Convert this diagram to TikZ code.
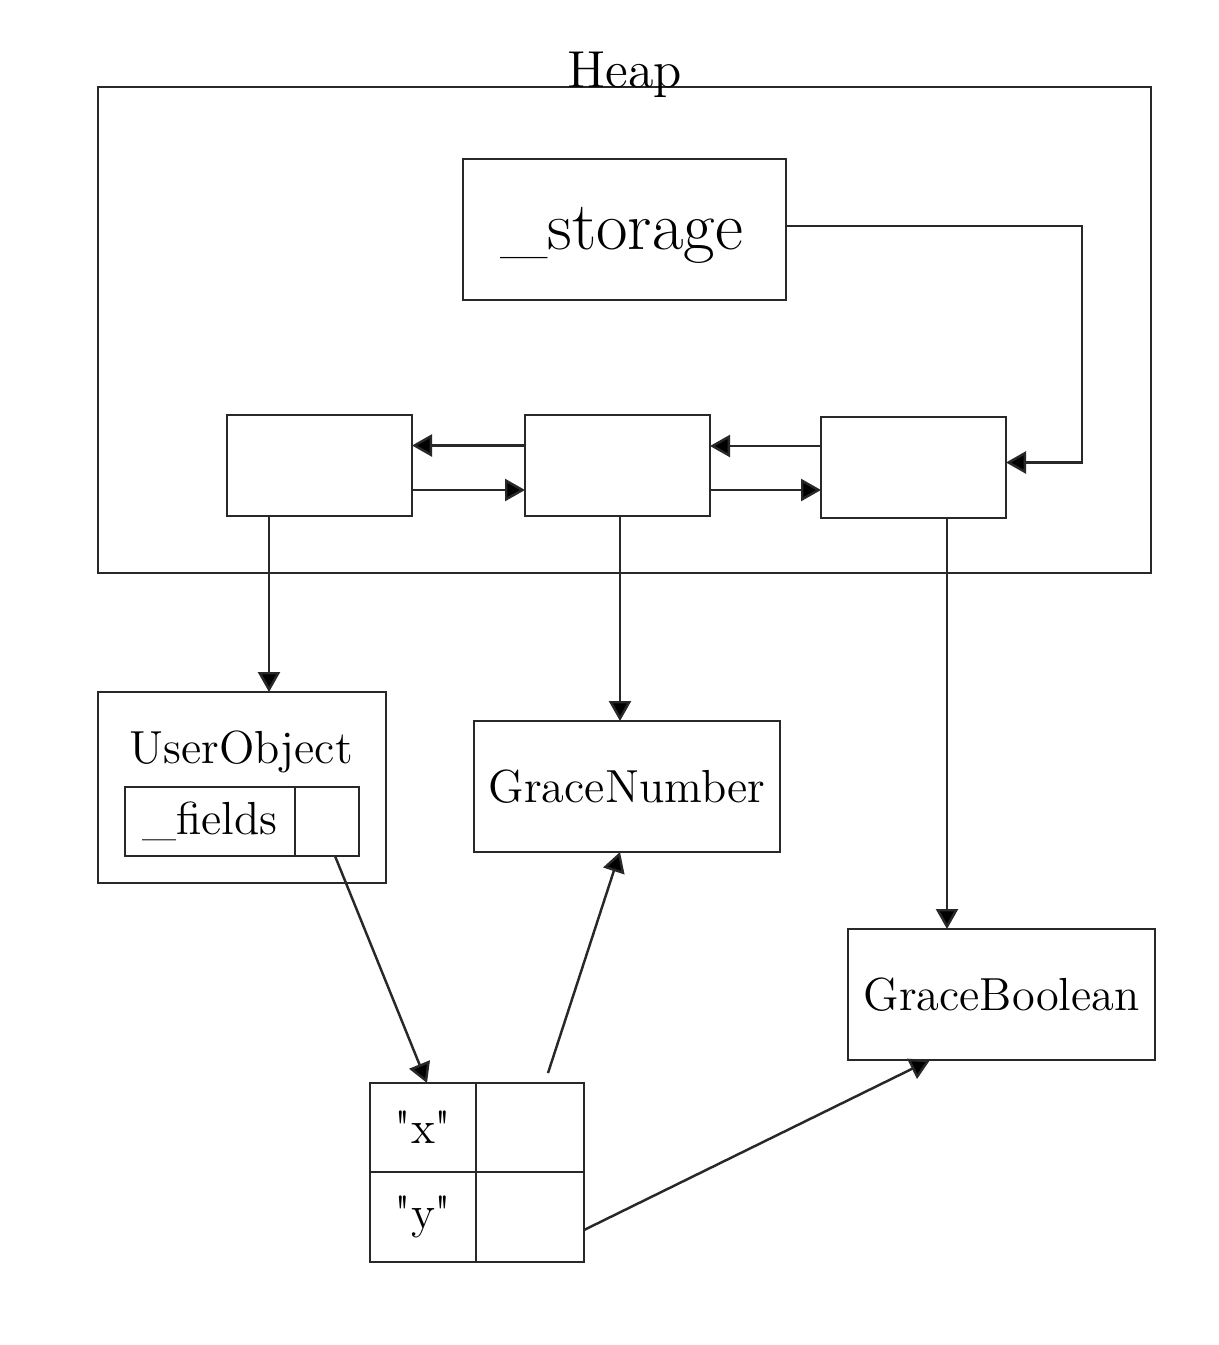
\documentclass[tikz,border=0pt]{standalone}
\usepackage{tikz}
\usetikzlibrary{arrows.meta,positioning,calc}
\definecolor{linegray}{RGB}{40,40,40}
\tikzstyle{arrow} = [line width=0.7pt,-{Triangle[length=2mm,width=2.2mm,fill=black]},color=linegray]
\tikzstyle{box} = [draw=linegray, line width=0.7pt, inner sep=0pt, outer sep=0pt]
\tikzstyle{cell} = [box, minimum width=1.85cm, minimum height=1.01cm]
\newcommand{\objfont}{\fontsize{13.2}{15}\selectfont}

\begin{document}
\begin{tikzpicture}
\useasboundingbox (0,0) rectangle (12.19,-13.45);

% Heap
\node[box, minimum width=10.53cm, minimum height=4.86cm] (heap) at (6.245,-3.30) {};
\node[anchor=base, font=\fontsize{14.8}{16}\selectfont] (heaplbl) at (heap.north) {Heap};
\node[box, minimum width=3.23cm, minimum height=1.41cm] (storage) at (6.245,-2.295) {};
\node[font=\fontsize{19.5}{21}\selectfont] (storagelbl) at (6.215,-2.35) {\_storage};

% Cells
\node[cell] (c1) at (3.195,-4.655) {};
\node[cell] (c2) at (6.175,-4.655) {};
\node[cell] (c3) at (9.135,-4.675) {};

\draw[arrow] ([yshift=0.2cm]c2.west) -- ([yshift=0.2cm]c2.west -| c1.east);
\draw[arrow] ([yshift=-0.245cm]c1.east) -- ([yshift=-0.245cm]c1.east -| c2.west);
\draw[arrow] ([yshift=0.215cm]c3.west) -- ([yshift=0.215cm]c3.west -| c2.east);
\draw[arrow] ([yshift=-0.245cm]c2.east) -- ([yshift=-0.245cm]c2.east -| c3.west);
\draw[arrow] ([yshift=0.035cm]storage.east) -- ++(2.96,0) |- ([yshift=0.05cm]c3.east);

% Objects
\node[box, minimum width=2.88cm, minimum height=1.91cm] (uobj) at (2.42,-7.875) {};
\node[font=\objfont] (uobjlbl) at (2.41,-7.52) {UserObject};
\node[box, minimum width=1.70cm, minimum height=0.69cm, font=\objfont] (fkey) at (2.10,-8.215) {\_fields};
\node[box, minimum width=0.64cm, minimum height=0.69cm, right=0pt of fkey] (fval) {};

\node[box, minimum width=3.06cm, minimum height=1.31cm, font=\objfont] (gnum) at (6.27,-7.865) {GraceNumber};
\node[box, minimum width=3.07cm, minimum height=1.31cm, font=\objfont] (gbool) at (10.015,-9.945) {GraceBoolean};

% Fields table
\node[box, minimum width=1.06cm, minimum height=0.89cm, font=\objfont] (xkey) at (4.23,-11.275) {\textquotedbl x\textquotedbl};
\node[box, minimum width=1.08cm, minimum height=0.89cm, right=0pt of xkey] (xval) {};
\node[box, minimum width=1.06cm, minimum height=0.90cm, below=0pt of xkey, font=\objfont] (ykey) {\textquotedbl y\textquotedbl};
\node[box, minimum width=1.08cm, minimum height=0.90cm, right=0pt of ykey] (yval) {};

% Pointers
\draw[arrow] ([xshift=-0.505cm]c1.south) -- ([xshift=-0.505cm]c1.south |- uobj.north);
\draw[arrow] ([xshift=0.025cm]c2.south) -- ([xshift=0.025cm]c2.south |- gnum.north);
\draw[arrow] ([xshift=0.335cm]c3.south) -- ([xshift=0.335cm]c3.south |- gbool.north);
\draw[arrow] ([xshift=0.08cm]fval.south) -- ([xshift=0.04cm]xkey.north);
\coordinate (xptr) at (5.48,-10.73);
\draw[arrow] (xptr) -- ([xshift=-0.07cm]gnum.south);
\draw[arrow] ([yshift=-0.13cm]yval.east) -- ([xshift=-0.715cm]gbool.south);
\end{tikzpicture}
\end{document}
